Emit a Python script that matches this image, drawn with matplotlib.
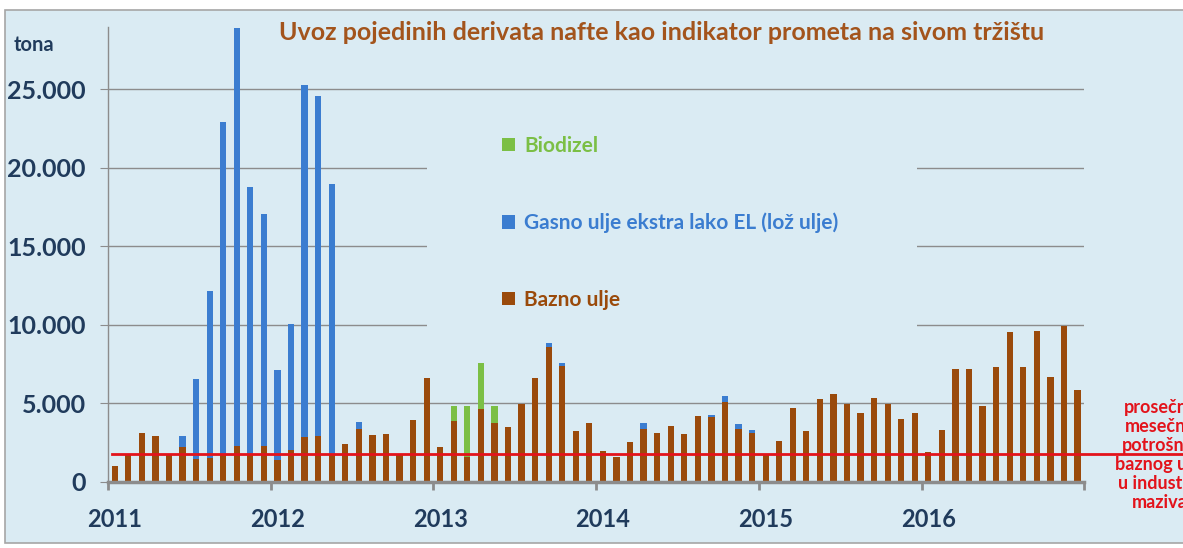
import matplotlib.pyplot as plt
import numpy as np
from matplotlib.patches import Rectangle

plt.rcParams['font.family'] = ['Lato', 'DejaVu Sans']

# godine na x osi (oznaka stoji kod januara)
godine = ['2011', '2012', '2013', '2014', '2015', '2016']

# mesecni uvoz u tonama, jan 2011 - dec 2016 (72 meseca)
bazno_ulje = [1020, 1660, 3100, 2900, 1760, 2190, 1450, 1470, 1760, 2290, 1760, 2250,
              1340, 2040, 2820, 2930, 1760, 2370, 3350, 2950, 3040, 1760, 3890, 6580,
              2230, 3840, 1550, 4630, 3720, 3460, 4950, 6600, 8600, 7390, 3200, 3720,
              1930, 1590, 2500, 3350, 3080, 3520, 3040, 4160, 4100, 5100, 3350, 3080,
              1660, 2610, 4690, 3250, 5260, 5580, 4970, 4390, 5310, 4970, 3990, 4370,
              1890, 3310, 7180, 7160, 4800, 7280, 9550, 7320, 9570, 6690, 9940, 5840]
gasno_ulje = [0, 0, 0, 0, 0, 710, 5070, 10650, 21170, 26610, 16990, 14820,
              5790, 8020, 22470, 21670, 17200, 0, 470, 0, 0, 0, 0, 0,
              0, 0, 0, 0, 0, 0, 0, 0, 210, 170, 0, 0,
              0, 0, 0, 390, 0, 0, 0, 0, 170, 380, 300, 190,
              0, 0, 0, 0, 0, 0, 0, 0, 0, 0, 0, 0,
              0, 0, 0, 0, 0, 0, 0, 0, 0, 0, 0, 0]
biodizel = [0] * 25 + [960, 3250, 2930, 1070] + [0] * 43
prosek_potrosnje = 1760

# boje
bg = '#DAEBF3'
braon = '#9A4A0B'
plava = '#3B7DD0'
zelena = '#7BBF45'
teget = '#203B5C'
siva = '#8C8C8C'
crvena = '#E3131B'

W, H = 1183, 548
fig = plt.figure(figsize=(W / 100, H / 100), dpi=100, facecolor='white')
fig.patches.append(Rectangle((5 / W, 1 - 543 / H), 1, (543 - 10) / H, transform=fig.transFigure,
                             facecolor=bg, edgecolor='#A6A6A6', lw=1.2, zorder=-1))

ax = fig.add_axes([108 / W, 1 - 481.5 / H, (1084.3 - 108) / W, (481.5 - 26.7) / H])
ax.set_facecolor('none')

x = np.arange(len(bazno_ulje))
b1 = np.array(bazno_ulje)
b2 = np.array(gasno_ulje)
b3 = np.array(biodizel)
sirina = 0.46
p1 = ax.bar(x, b1, width=sirina, color=braon, lw=0, zorder=2)
p2 = ax.bar(x, b2, bottom=b1, width=sirina, color=plava, lw=0, zorder=2)
p3 = ax.bar(x, b3, bottom=b1 + b2, width=sirina, color=zelena, lw=0, zorder=2)

# prosecna mesecna potrosnja - ide i van grafika
ax.axhline(prosek_potrosnje, xmin=0.004, xmax=(W - 108) / (1084.3 - 108), color=crvena,
           lw=2, zorder=3, clip_on=False)

ax.set_xlim(-0.5, len(x) - 0.5)
ax.set_ylim(0, 29000)

# mreza
ax.set_axisbelow(True)
ax.yaxis.grid(True, color=siva, lw=1)
# polje legende prekriva mrezu
ax.add_patch(Rectangle((427 / W, 1 - 336 / H), (917 - 427) / W, (336 - 100) / H,
                       transform=fig.transFigure, facecolor=bg, edgecolor='none',
                       zorder=0.8, clip_on=False))

for s in ['top', 'right']:
    ax.spines[s].set_visible(False)
ax.spines['left'].set_color(siva)
ax.spines['left'].set_linewidth(1)
ax.spines['bottom'].set_color(siva)
ax.spines['bottom'].set_linewidth(2.5)

yt = list(range(0, 25001, 5000))
ax.set_yticks(yt)
ax.set_yticklabels([f'{v:,}'.replace(',', '.') for v in yt], fontweight='bold')
ax.tick_params(axis='y', length=6, color=siva, pad=10, labelsize=18, labelcolor=teget)

ax.set_xticks(np.arange(0, len(x), 12))
ax.set_xticklabels(godine, fontweight='bold')
ax.set_xticks(np.arange(-0.5, len(x), 12), minor=True)
ax.tick_params(axis='x', which='major', length=0, pad=19, labelsize=17, labelcolor=teget)
ax.tick_params(axis='x', which='minor', length=6, width=2, color=siva)

ax.legend([p3, p2, p1], ['Biodizel', 'Gasno ulje ekstra lako EL (lož ulje)', 'Bazno ulje'],
          loc='upper left', bbox_to_anchor=(502 / W, 1 - 136 / H), bbox_transform=fig.transFigure,
          frameon=False, borderpad=0, borderaxespad=0, handlelength=0.6, handleheight=0.6,
          handletextpad=0.45, labelspacing=2.72, prop={'size': 15, 'weight': 'bold'},
          labelcolor=[zelena, plava, braon])

fig.text(662 / W, 1 - 33 / H, 'Uvoz pojedinih derivata nafte kao indikator prometa na sivom tržištu',
         ha='center', va='center', fontsize=18, fontweight='bold', color='#A3541C')
fig.text(14 / W, 1 - 45 / H, 'tona', ha='left', va='center', fontsize=14.5, fontweight='bold', color=teget)
fig.text(1160 / W, 1 - 455 / H, 'prosečna\nmesečna\npotrošnja\nbaznog ulja\nu industriji\nmaziva',
         ha='center', va='center', ma='center', fontsize=13, fontweight='bold', color=crvena,
         linespacing=1.15)

fig.savefig('out.png', dpi=100)
